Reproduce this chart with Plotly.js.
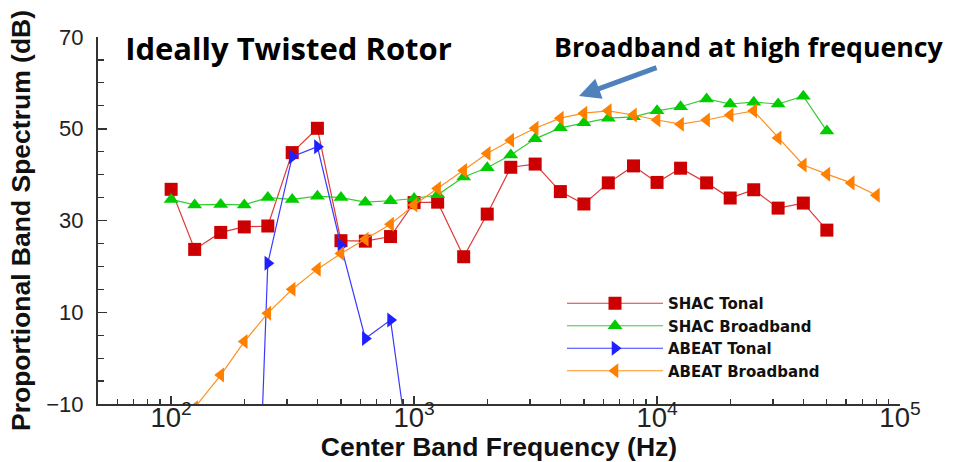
<!DOCTYPE html>
<html>
<head>
<meta charset="utf-8">
<script src="https://cdn.plot.ly/plotly-3.0.1.min.js"></script>
<style>html,body{margin:0;padding:0;background:#fff;}#chart{width:961px;height:462px;}</style>
</head>
<body>
<div id="chart"></div>
<script>
// One-third octave band centre frequencies (Hz)
const freqShac = [100,125,160,200,250,315,400,500,630,800,1000,1250,1600,2000,2500,3150,4000,5000,6300,8000,10000,12500,16000,20000,25000,31500,40000,50000];
const shacTonal = [36.8,23.7,27.4,28.6,28.8,44.8,50.1,25.6,25.5,26.5,33.9,34.0,22.1,31.4,41.6,42.3,36.3,33.6,38.2,41.9,38.3,41.4,38.2,34.9,36.7,32.7,33.8,27.9];
const shacBroadband = [34.6,33.4,33.5,33.4,35.0,34.6,35.3,35.0,34.0,34.3,34.8,35.6,39.5,41.5,44.3,47.8,50.2,51.3,52.3,52.6,53.9,54.8,56.5,55.4,55.8,55.4,57.1,49.5];
const freqAbeatTonal = [200,250,315,400,500,630,800,1000];
const abeatTonal = [-120,20.7,43.9,46.1,24.5,4.3,8.3,-29];
const freqAbeatBroadband = [125,160,200,250,315,400,500,630,800,1000,1250,1600,2000,2500,3150,4000,5000,6300,8000,10000,12500,16000,20000,25000,31500,40000,50000,63000,80000];
const abeatBroadband = [-10.8,-3.7,3.6,9.8,15.0,19.4,22.8,25.9,29.2,33.4,37.0,40.9,44.6,47.5,50.1,52.3,53.4,53.9,53.0,51.9,51.0,51.9,53.0,53.9,48.0,42.1,40.1,38.2,35.5];
const seriesNames = ['SHAC Tonal','SHAC Broadband','ABEAT Tonal','ABEAT Broadband'];
const titleText = 'Ideally Twisted Rotor';
const noteText = 'Broadband at high frequency';
const xTitle = 'Center Band Frequency (Hz)';
const yTitle = 'Proportional Band Spectrum (dB)';

const W = 961, H = 462;
const M = {l: 98, r: 61, t: 37, b: 58};
const pw = W - M.l - M.r, ph = H - M.t - M.b;
const px2paperX = p => (p - M.l) / pw;
const px2paperY = p => (H - M.b - p) / ph;

function tr(x, y, name, color, lineColor, symbol) {
  return {
    x: x, y: y, name: name, type: 'scatter', mode: 'lines+markers',
    line: {color: lineColor, width: 1.2},
    marker: {color: color, symbol: symbol, size: 13, line: {width: 0}},
    cliponaxis: true
  };
}

const data = [
  tr(freqShac, shacTonal, seriesNames[0], '#cc0000', '#dd3a3a', 'square'),
  tr(freqShac, shacBroadband, seriesNames[1], '#00cc00', '#33cc33', 'triangle-up'),
  tr(freqAbeatTonal, abeatTonal, seriesNames[2], '#2020ff', '#3a3aff', 'triangle-right'),
  tr(freqAbeatBroadband, abeatBroadband, seriesNames[3], '#ff8000', '#ff9020', 'triangle-left')
];

const tickFont = {family: 'Liberation Sans, Arial, sans-serif', size: 22, color: '#222'};
const titleFont = {family: 'Liberation Sans, Arial, sans-serif', size: 26.5, color: '#111', weight: 'bold'};

const layout = {
  width: W, height: H,
  margin: M,
  paper_bgcolor: '#fff', plot_bgcolor: '#fff',
  showlegend: true,
  title: {
    text: titleText,
    font: {family: 'Open Sans, sans-serif', size: 31, color: '#000', weight: 'bold'},
    x: 288.5 / W, xanchor: 'center', xref: 'container',
    y: 1 - 49 / H, yanchor: 'middle', yref: 'container'
  },
  xaxis: {
    type: 'log',
    range: [Math.log10(50), 5],
    dtick: 1,
    exponentformat: 'power',
    showline: true, linecolor: '#333', linewidth: 2,
    ticks: 'inside', ticklen: 8, tickwidth: 1.5, tickcolor: '#333',
    minor: {dtick: 'D1', ticks: 'inside', ticklen: 5, tickwidth: 1.2, tickcolor: '#333', showgrid: false},
    showgrid: false, zeroline: false,
    tickfont: tickFont,
    ticklabelstandoff: -11,
    title: {text: xTitle, font: titleFont, standoff: 0}
  },
  yaxis: {
    range: [-10, 70],
    tick0: -10, dtick: 20,
    showline: true, linecolor: '#333', linewidth: 2,
    ticks: 'inside', ticklen: 9, tickwidth: 1.5, tickcolor: '#333',
    minor: {dtick: 5, ticks: 'inside', ticklen: 6, tickwidth: 1.2, tickcolor: '#333', showgrid: false},
    showgrid: false, zeroline: false,
    tickfont: tickFont,
    ticklabelstandoff: 8,
    title: {text: yTitle, font: titleFont, standoff: 8}
  },
  legend: {
    x: px2paperX(562), xanchor: 'left',
    y: px2paperY(287), yanchor: 'top',
    bgcolor: 'rgba(255,255,255,0)',
    borderwidth: 0,
    itemwidth: 96,
    font: {family: 'DejaVu Sans, sans-serif', size: 15, color: '#111', weight: 'bold'},
    tracegroupgap: 0
  },
  annotations: [
    {
      xref: 'paper', yref: 'paper',
      x: px2paperX(748), y: px2paperY(46),
      xanchor: 'center', yanchor: 'middle',
      text: noteText, showarrow: false,
      font: {family: 'Open Sans, sans-serif', size: 26.7, color: '#000', weight: 'bold'}
    },
    {
      xref: 'paper', yref: 'paper',
      x: px2paperX(579), y: px2paperY(96),
      text: '', showarrow: true,
      ax: 79, ay: -29,
      arrowhead: 2, arrowsize: 0.85, arrowwidth: 5, arrowcolor: '#4f81bd'
    }
  ]
};

Plotly.newPlot('chart', data, layout, {displayModeBar: false, staticPlot: true});
</script>
</body>
</html>
